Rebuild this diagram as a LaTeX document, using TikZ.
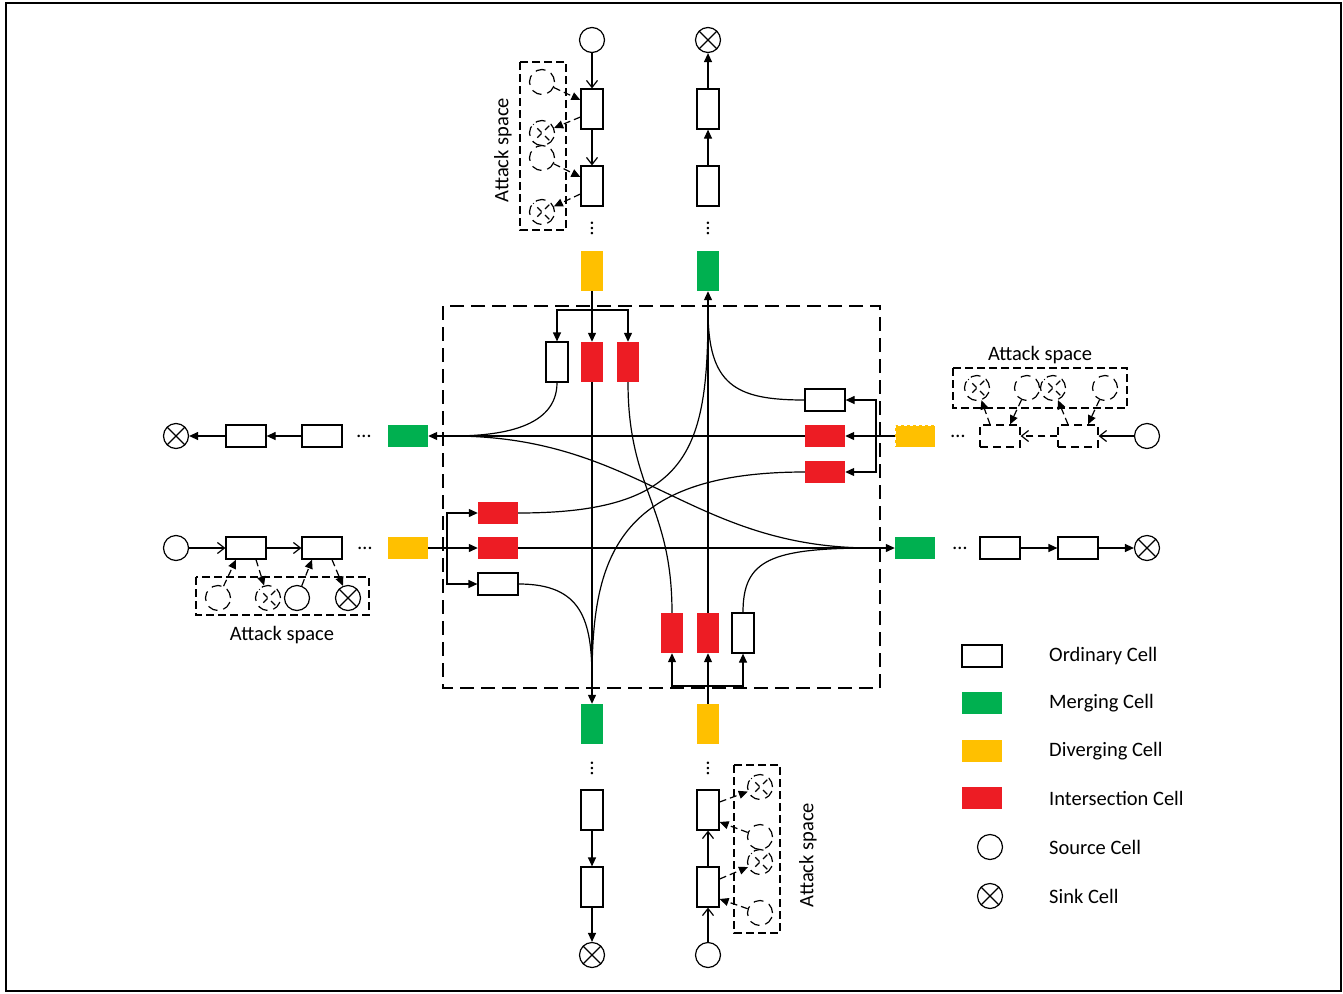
\documentclass[tikz,border=0pt]{standalone}
\usepackage{fontspec}
\setmainfont{Carlito}
\usepackage{xcolor}
\usepackage{tikz}
\usetikzlibrary{arrows.meta,positioning,calc}
\definecolor{mrgcol}{RGB}{0,176,80}
\definecolor{dvgcol}{RGB}{255,192,0}
\definecolor{isccol}{RGB}{237,28,36}

\begin{document}
\begin{tikzpicture}[x=1pt, y=-1pt,
  font=\fontsize{20.5}{24}\selectfont,
  vc/.style={minimum width=22pt, minimum height=40pt, inner sep=0pt},
  hc/.style={minimum width=40pt, minimum height=22pt, inner sep=0pt},
  ord/.style={draw, line width=1.2pt, fill=white},
  dord/.style={draw, line width=1.2pt, dash pattern=on 8pt off 5pt},
  mrg/.style={fill=mrgcol},
  dvg/.style={fill=dvgcol},
  isc/.style={fill=isccol},
  src/.style={draw, circle, line width=1.2pt, minimum size=25pt, inner sep=0pt},
  snk/.style={src, path picture={\draw[line width=1.2pt]
    (path picture bounding box.north west) -- (path picture bounding box.south east)
    (path picture bounding box.south west) -- (path picture bounding box.north east);}},
  dsrc/.style={src, dash pattern=on 10pt off 6pt},
  dsnk/.style={dsrc, path picture={\draw[line width=1.2pt, dash pattern=on 6pt off 5pt]
    (path picture bounding box.north west) -- (path picture bounding box.south east)
    (path picture bounding box.south west) -- (path picture bounding box.north east);}},
  road/.style={-{Triangle[length=9pt,width=8pt]}, line width=1.2pt},
  feed/.style={-{Straight Barb[length=7pt,width=11pt]}, line width=1.2pt},
  atk/.style={-{Triangle[length=9pt,width=8pt]}, line width=1.2pt, dash pattern=on 7pt off 4pt},
  curv/.style={line width=1.2pt},
  zone/.style={line width=2.5pt, dash pattern=on 14pt off 7pt},
  atkbox/.style={line width=1.2pt, dash pattern=on 8pt off 4pt},
  lgtxt/.style={anchor=west, inner sep=0pt}]
  \useasboundingbox (0,0) rectangle (1343,993);
  \draw[line width=1.5pt] (6,3) rectangle (1341,991);
  % north approach
  \node[src] (ns) at (592,40) {};
  \node[vc, ord] (nc1) at (592,109) {};
  \node[vc, ord] (nc2) at (592,186) {};
  \node[rotate=90] (nd1) at (592,228) {…};
  \node[vc, dvg] (ny) at (592,271) {};
  \node[snk] (nk) at (708,40) {};
  \node[vc, ord] (no1) at (708,109) {};
  \node[vc, ord] (no2) at (708,186) {};
  \node[rotate=90] (nd2) at (708,228) {…};
  \node[vc, mrg] (nm) at (708,271) {};
  \draw[feed] (ns) -- (nc1);
  \draw[feed] (nc1) -- (nc2);
  \draw[road] (no2) -- (no1);
  \draw[road] (no1) -- (nk);
  % attack space north
  \draw[atkbox] (520,62) rectangle (566,230);
  \node[dsrc] (na1) at (542,82) {};
  \node[dsnk] (na2) at (542,133) {};
  \node[dsrc] (na3) at (542,158) {};
  \node[dsnk] (na4) at (542,212) {};
  \draw[atk] (na1) -- ([yshift=9pt]nc1.west);
  \draw[atk] ([yshift=-8pt]nc1.west) -- (na2);
  \draw[atk] (na3) -- ([yshift=9pt]nc2.west);
  \draw[atk] ([yshift=-8pt]nc2.west) -- (na4);
  \node[rotate=90] (nlab) at (503,150) {Attack space};
  % east approach
  \node[src] (es) at (1147,436) {};
  \node[hc, dord] (ec2) at (1078,436) {};
  \node[hc, dord] (ec1) at (1000,436) {};
  \node (ed1) at (958,436) {…};
  \node[hc, dvg, draw=white, dashed] (ey) at (915,436) {};
  \node[snk] (ek) at (1147,548) {};
  \node[hc, ord] (eo2) at (1078,548) {};
  \node[hc, ord] (eo1) at (1000,548) {};
  \node (ed2) at (960,548) {…};
  \node[hc, mrg] (em) at (915,548) {};
  \draw[feed] (es) -- (ec2);
  \draw[feed, dash pattern=on 7pt off 5pt] (ec2) -- (ec1);
  \draw[road] (eo1) -- (eo2);
  \draw[road] (eo2) -- (ek);
  % attack space east
  \draw[atkbox] (953,368) rectangle (1127,408);
  \node[dsnk] (ea1) at (977,388) {};
  \node[dsrc] (ea2) at (1027,388) {};
  \node[dsnk] (ea3) at (1053,388) {};
  \node[dsrc] (ea4) at (1105,388) {};
  \draw[atk] ([xshift=-10pt]ec1.north) -- (ea1);
  \draw[atk] (ea2) -- ([xshift=10pt]ec1.north);
  \draw[atk] ([xshift=-10pt]ec2.north) -- (ea3);
  \draw[atk] (ea4) -- ([xshift=10pt]ec2.north);
  \node (elab) at (1040,355) {Attack space};
  % west approach
  \node[snk] (wk) at (176,436) {};
  \node[hc, ord] (wo1) at (246,436) {};
  \node[hc, ord] (wo2) at (322,436) {};
  \node (wd1) at (364,436) {…};
  \node[hc, mrg] (wm) at (408,436) {};
  \draw[road] (wo2) -- (wo1);
  \draw[road] (wo1) -- (wk);
  \node[src] (ws) at (176,548) {};
  \node[hc, ord] (wc1) at (246,548) {};
  \node[hc, ord] (wc2) at (322,548) {};
  \node (wd2) at (365,548) {…};
  \node[hc, dvg] (wy) at (408,548) {};
  \draw[feed] (ws) -- (wc1);
  \draw[feed] (wc1) -- (wc2);
  % attack space west
  \draw[atkbox] (196,577) rectangle (369,615);
  \node[dsrc] (wa1) at (218,598) {};
  \node[dsnk] (wa2) at (268,598) {};
  \node[src] (wa3) at (297,598) {};
  \node[snk] (wa4) at (348,598) {};
  \draw[atk] (wa1) -- ([xshift=-10pt]wc1.south);
  \draw[atk] ([xshift=10pt]wc1.south) -- (wa2);
  \draw[atk] (wa3) -- ([xshift=-10pt]wc2.south);
  \draw[atk] ([xshift=10pt]wc2.south) -- (wa4);
  \node (wlab) at (282,635) {Attack space};
  % south approach
  \node[vc, mrg] (sm) at (592,724) {};
  \node[rotate=90] (sd1) at (592,768) {…};
  \node[vc, ord] (so1) at (592,810) {};
  \node[vc, ord] (so2) at (592,887) {};
  \node[snk] (sk) at (592,955) {};
  \draw[road] (so1) -- (so2);
  \draw[road] (so2) -- (sk);
  \node[vc, dvg] (sy) at (708,724) {};
  \node[rotate=90] (sd2) at (708,768) {…};
  \node[vc, ord] (sc2) at (708,810) {};
  \node[vc, ord] (sc1) at (708,887) {};
  \node[src] (ss) at (708,955) {};
  \draw[feed] (ss) -- (sc1);
  \draw[feed] (sc1) -- (sc2);
  % attack space south
  \draw[atkbox] (734,765) rectangle (780,933);
  \node[dsnk] (sa1) at (760,787) {};
  \node[dsrc] (sa2) at (760,837) {};
  \node[dsnk] (sa3) at (760,862) {};
  \node[dsrc] (sa4) at (760,913) {};
  \draw[atk] ([yshift=8pt]sc2.east) -- (sa1);
  \draw[atk] (sa2) -- ([yshift=-12pt]sc2.east);
  \draw[atk] ([yshift=8pt]sc1.east) -- (sa3);
  \draw[atk] (sa4) -- ([yshift=-12pt]sc1.east);
  \node[rotate=90] (slab) at (808,855) {Attack space};
  % intersection
  \draw[zone] (443,306) rectangle (880,688);
  \node[vc, ord] (tw) at (557,362) {};
  \node[vc, isc] (ti1) at (592,362) {};
  \node[vc, isc] (ti2) at (628,362) {};
  \node[hc, ord] (rw) at (825,400) {};
  \node[hc, isc] (ri1) at (825,436) {};
  \node[hc, isc] (ri2) at (825,472) {};
  \node[hc, isc] (li1) at (498,513) {};
  \node[hc, isc] (li2) at (498,548) {};
  \node[hc, ord] (lw) at (498,584) {};
  \node[vc, isc] (bi1) at (672,633) {};
  \node[vc, isc] (bi2) at (708,633) {};
  \node[vc, ord] (bw) at (743,633) {};
  \coordinate (tj) at (592,310);
  \coordinate (rj) at (876,436);
  \coordinate (lj) at (447,548);
  \coordinate (bj) at (708,686);
  \coordinate (wj) at (452,436);
  \coordinate (ej) at (872,548);
  \coordinate (nj) at (708,310);
  \coordinate (sj) at (592,680);
  % splits
  \draw[road] (ny) -- (ti1);
  \draw[road] (tj) -| (tw.north);
  \draw[road] (tj) -| (ti2.north);
  \draw[line width=1.2pt] (ey) -- (rj);
  \draw[road] (rj) -- (ri1);
  \draw[road] (rj) |- (rw.east);
  \draw[road] (rj) |- (ri2.east);
  \draw[road] (wy) -- (li2);
  \draw[road] (lj) |- (li1.west);
  \draw[road] (lj) |- (lw.west);
  \draw[road] (sy) -- (bi2);
  \draw[road] (bj) -| (bi1.south);
  \draw[road] (bj) -| (bw.south);
  % through
  \draw[road] (ti1) -- (sm);
  \draw[road] (bi2) -- (nm);
  \draw[road] (ri1) -- (wm);
  \draw[road] (li2) -- (em);
  % turns
  \draw[curv] (tw.south) .. controls (557,428) and (500,436) .. (wj);
  \draw[curv] (ti2.south) .. controls (628,490) and (672,505) .. (bi1.north);
  \draw[curv] (wj) .. controls (640,436) and (690,548) .. (ej);
  \draw[curv] (li1.east) .. controls (690,513) and (708,450) .. (nj);
  \draw[curv] (nj) .. controls (708,385) and (735,400) .. (rw.west);
  \draw[curv] (ri2.west) .. controls (615,472) and (592,560) .. (sj);
  \draw[curv] (lw.east) .. controls (582,584) and (592,620) .. (sj);
  \draw[curv] (bw.north) .. controls (743,560) and (770,548) .. (ej);
  % legend
  \node[hc, ord] (lg1) at (982,656) {};
  \node[hc, mrg] (lg2) at (982,703) {};
  \node[hc, dvg] (lg3) at (982,751) {};
  \node[hc, isc] (lg4) at (982,798) {};
  \node[src] (lg5) at (990,847) {};
  \node[snk] (lg6) at (990,896) {};
  \node[lgtxt] (lt1) at (1049,656) {Ordinary Cell};
  \node[lgtxt] (lt2) at (1049,703) {Merging Cell};
  \node[lgtxt] (lt3) at (1049,751) {Diverging Cell};
  \node[lgtxt] (lt4) at (1049,798) {Intersection Cell};
  \node[lgtxt] (lt5) at (1049,847) {Source Cell};
  \node[lgtxt] (lt6) at (1049,896) {Sink Cell};
\end{tikzpicture}
\end{document}
